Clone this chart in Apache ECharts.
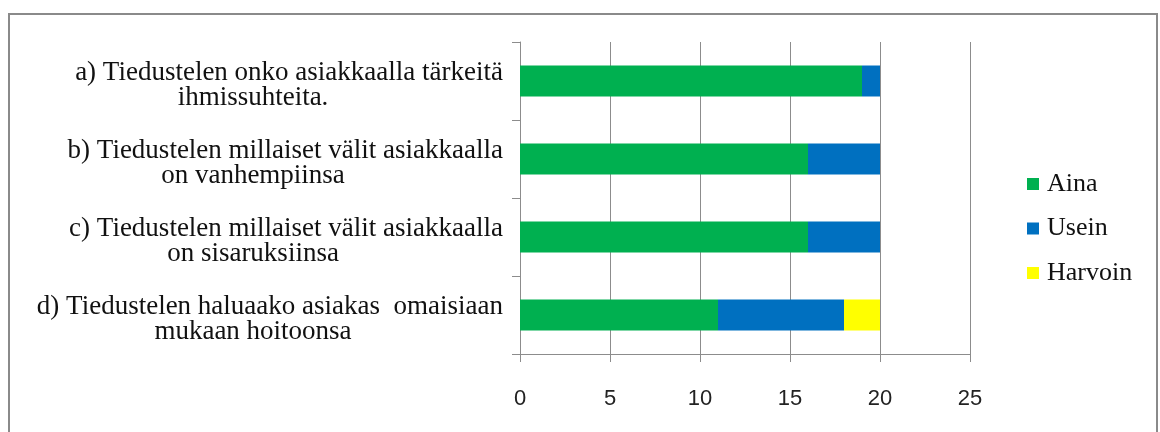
<!DOCTYPE html>
<html>
<head>
<meta charset="utf-8">
<script src="https://cdn.jsdelivr.net/npm/echarts@6/dist/echarts.min.js"></script>
<style>
  html, body { margin: 0; padding: 0; background: #fff; overflow: hidden; }
  #frame {
    position: absolute; left: 8px; top: 13px; width: 1150px; height: 440px;
    border: 2px solid #8a8a8a; border-bottom: none; box-sizing: border-box;
  }
  #chart { position: absolute; left: 0; top: 0; width: 1160px; height: 432px; }
</style>
</head>
<body>
<div id="frame"></div>
<div id="chart"></div>
<script>
// Question texts, each split into its two display lines
const categoryLines = [
  ['a) Tiedustelen onko asiakkaalla tärkeitä', 'ihmissuhteita.'],
  ['b) Tiedustelen millaiset välit asiakkaalla', 'on vanhempiinsa'],
  ['c) Tiedustelen millaiset välit asiakkaalla', 'on sisaruksiinsa'],
  ['d) Tiedustelen haluaako asiakas  omaisiaan', 'mukaan hoitoonsa']
];
const categories = categoryLines.map(l => l.join('\n'));

const seriesNames = ['Aina', 'Usein', 'Harvoin'];
const aina    = [19, 16, 16, 11];
const usein   = [1, 4, 4, 7];
const harvoin = [0, 0, 0, 2];

const xTicks = [0, 5, 10, 15, 20, 25];

const colors = ['#00B050', '#0070C0', '#FFFF00'];
const serif = '"Liberation Serif", "Times New Roman", serif';

const chart = echarts.init(document.getElementById('chart'));

const seriesData = [aina, usein, harvoin];

chart.setOption({
  animation: false,
  grid: { left: 518, right: 190, top: 42, bottom: 78, containLabel: false },
  legend: {
    orient: 'vertical',
    left: 1027,
    top: 171,
    padding: 0,
    itemWidth: 12,
    itemHeight: 12,
    itemGap: 18.5,
    icon: 'rect',
    textStyle: { fontFamily: serif, fontSize: 26, color: '#111', padding: [0, 0, 0, 3] },
    data: seriesNames
  },
  xAxis: {
    type: 'value',
    min: xTicks[0],
    max: xTicks[xTicks.length - 1],
    interval: 5,
    axisLine: { show: true, lineStyle: { color: '#8c8c8c', width: 1 } },
    axisTick: { show: true, length: 8, lineStyle: { color: '#8c8c8c' } },
    splitLine: { show: true, lineStyle: { color: '#8c8c8c', width: 1 } },
    axisLabel: {
      margin: 34,
      fontFamily: '"Liberation Sans", Arial, sans-serif',
      fontSize: 22,
      color: '#222'
    }
  },
  yAxis: {
    type: 'category',
    inverse: true,
    data: categories,
    axisLine: { show: true, lineStyle: { color: '#8c8c8c', width: 1 } },
    axisTick: { show: true, length: 8, lineStyle: { color: '#8c8c8c' } },
    axisLabel: {
      margin: 17,
      padding: [9, 0, 0, 0],
      formatter: function (value) {
        const parts = value.split('\n');
        return '{l1|' + parts[0] + '}\n{l2|' + parts[1] + '}';
      },
      rich: {
        l1: { fontFamily: serif, fontSize: 27, color: '#111', lineHeight: 25, align: 'right' },
        l2: { fontFamily: serif, fontSize: 27, color: '#111', lineHeight: 25, width: 500, align: 'center' }
      }
    }
  },
  series: seriesNames.map((name, i) => ({
    name: name,
    type: 'bar',
    stack: 'total',
    barWidth: 31,
    itemStyle: { color: colors[i] },
    data: seriesData[i]
  }))
});
</script>
</body>
</html>
